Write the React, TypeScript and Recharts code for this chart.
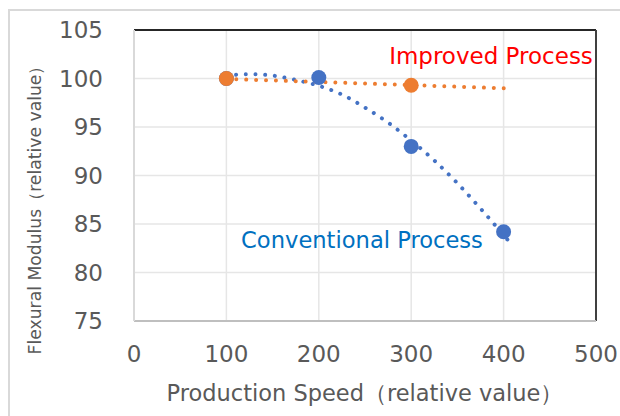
import React from "react";
import {
  ComposedChart,
  Line,
  Scatter,
  XAxis,
  YAxis,
  CartesianGrid,
  ReferenceLine,
  Customized,
} from "recharts";

const xTicks = [0, 100, 200, 300, 400, 500];
const yTicks = [75, 80, 85, 90, 95, 100, 105];

const conventionalPoints = [
  { x: 100, y: 100 },
  { x: 200, y: 100.1 },
  { x: 300, y: 93 },
  { x: 400, y: 84.2 },
];
const improvedPoints = [
  { x: 100, y: 100 },
  { x: 300, y: 99.3 },
];

const conventionalTrend = [
  { x: 100, y: 100.3 },
  { x: 125, y: 100.45 },
  { x: 150, y: 100.3 },
  { x: 175, y: 99.85 },
  { x: 200, y: 99.25 },
  { x: 225, y: 98.35 },
  { x: 250, y: 97.0 },
  { x: 275, y: 95.45 },
  { x: 300, y: 93.6 },
  { x: 325, y: 91.55 },
  { x: 350, y: 89.2 },
  { x: 375, y: 86.6 },
  { x: 405, y: 83.3 },
];
const improvedTrend = [
  { x: 100, y: 99.95 },
  { x: 200, y: 99.65 },
  { x: 300, y: 99.32 },
  { x: 405, y: 98.98 },
];

const xTitle = "Production Speed（relative value）";
const yTitle = "Flexural Modulus（relative value）";

const FONT = "'DejaVu Sans', 'Noto Sans', sans-serif";

const Dot = (color: string) => (props: any) => {
  const { cx, cy } = props;
  return <circle cx={cx} cy={cy} r={7.5} fill={color} />;
};

const Labels = () => (
  <g fontFamily={FONT}>
    <text x={491} y={56} textAnchor="middle" dominantBaseline="central" fill="#FF0000" fontSize={23}>
      Improved Process
    </text>
    <text x={362} y={240} textAnchor="middle" dominantBaseline="central" fill="#0070C0" fontSize={22.6}>
      Conventional Process
    </text>
    <text
      x={35}
      y={206}
      transform="rotate(-90 35 206)"
      textAnchor="middle"
      dominantBaseline="central"
      fill="#595959"
      fontSize={17.2}
    >
      {yTitle}
    </text>
  </g>
);

export default function App() {
  return (
    <div style={{ position: "absolute", left: 0, top: 0, width: 620, height: 416, overflow: "hidden", background: "#fff" }}>
      <div
        style={{
          position: "absolute",
          left: 8,
          top: 9,
          width: 640,
          height: 440,
          border: "2px solid #d9d9d9",
        }}
      />
      <div style={{ position: "absolute", left: 0, top: 0 }}>
        <ComposedChart width={620} height={416} margin={{ top: 30, right: 24, bottom: 0, left: 0 }}>
          <CartesianGrid stroke="#e6e6e6" strokeWidth={1.5} />
          <XAxis
            type="number"
            dataKey="x"
            domain={[0, 500]}
            ticks={xTicks}
            height={95}
            axisLine={{ stroke: "#bfbfbf", strokeWidth: 2 }}
            tickLine={false}
            tick={{ fill: "#595959", fontSize: 23, fontFamily: FONT }}
            tickMargin={19}
            allowDataOverflow
            label={{
              value: xTitle,
              position: "insideBottom",
              offset: 15,
              fill: "#595959",
              fontSize: 22.5,
              fontFamily: FONT,
            }}
          />
          <YAxis
            type="number"
            dataKey="y"
            domain={[75, 105]}
            ticks={yTicks}
            width={134}
            axisLine={{ stroke: "#d9d9d9", strokeWidth: 2 }}
            tickLine={false}
            tick={{ fill: "#595959", fontSize: 23, fontFamily: FONT }}
            tickMargin={25}
            allowDataOverflow
          />
          <ReferenceLine y={105} stroke="#262626" strokeWidth={2} />
          <ReferenceLine x={500} stroke="#404040" strokeWidth={2} />
          <Line
            data={conventionalTrend}
            dataKey="y"
            type="monotone"
            stroke="#4472C4"
            strokeWidth={4}
            strokeDasharray="0.01 9.7"
            strokeLinecap="round"
            dot={false}
            activeDot={false}
            isAnimationActive={false}
          />
          <Line
            data={improvedTrend}
            dataKey="y"
            type="linear"
            stroke="#ED7D31"
            strokeWidth={4}
            strokeDasharray="0.01 9.9"
            strokeLinecap="round"
            dot={false}
            activeDot={false}
            isAnimationActive={false}
          />
          <Scatter data={conventionalPoints} dataKey="y" shape={Dot("#4472C4")} isAnimationActive={false} />
          <Scatter data={improvedPoints} dataKey="y" shape={Dot("#ED7D31")} isAnimationActive={false} />
          <Customized component={Labels} />
        </ComposedChart>
      </div>
    </div>
  );
}
